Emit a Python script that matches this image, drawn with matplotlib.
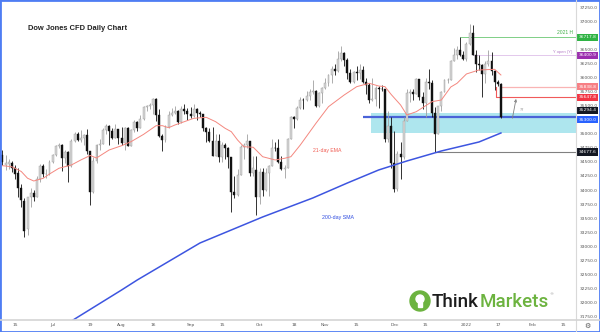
import numpy as np
import pandas as pd
import matplotlib
matplotlib.use('Agg')
import matplotlib.pyplot as plt
from matplotlib.patches import Rectangle, Ellipse

# daily candles, one per weekday from 2021-06-09 to 2022-01-18
first_day = '2021-06-09'
last_day = '2022-01-18'

opens = [34620, 34440, 34460,
         34480, 34390, 34300, 34030, 33800,
         33300, 33870, 33940, 33880, 34200,
         34430, 34280, 34290, 34500, 34630,
         34780, 34800, 34570, 34680, 34420,
         34870, 35000, 34890, 34930, 34980,
         34690, 33960, 34510, 34800, 34820,
         35060, 35140, 35050, 34930, 35080,
         34930, 34840, 35110, 34790, 35060,
         35210, 35100, 35260, 35480, 35500,
         35510, 35620, 35340, 34960, 34890,
         35120, 35330, 35370, 35400, 35210,
         35450, 35400, 35360, 35310, 35440,
         35370, 35350, 35100, 35030, 34880,
         34610, 34870, 34580, 34810, 34750,
         34580, 33970, 33920, 34260, 34760,
         34800, 34870, 34300, 34360, 33880,
         34320, 34000, 34310, 34420, 34750,
         34740, 34500, 34380, 34400, 34910,
         35300, 35260, 35460, 35610, 35600,
         35680, 35740, 35760, 35490, 35730,
         35820, 35910, 36050, 36160, 36120,
         36330, 36430, 36320, 36080, 35920,
         36100, 36090, 36140, 35930, 35870,
         35600, 35620, 35810, 35800, 35790,
         34900, 35140, 34480, 34020, 34640,
         34580, 35230, 35720, 35750, 35700,
         35970, 35650, 35540, 35930, 35900,
         35370, 35000, 35490, 35750, 35950,
         35960, 36300, 36400, 36490, 36400,
         36340, 36590, 36800, 36410, 36240,
         36230, 36070, 36250, 36290, 36110,
         35920, 35880]
highs = [34712, 34620, 34560,
         34520, 34450, 34400, 34100, 33850,
         33880, 34030, 34000, 34250, 34470,
         34460, 34380, 34530, 34650, 34800,
         34830, 34820, 34720, 34700, 34900,
         35040, 35030, 35060, 35000, 35090,
         34700, 34580, 34820, 34900, 35100,
         35170, 35150, 35100, 35170, 35090,
         35120, 35130, 35130, 35080, 35240,
         35230, 35340, 35500, 35520, 35540,
         35630, 35640, 35450, 35000, 35150,
         35400, 35460, 35500, 35420, 35500,
         35530, 35460, 35480, 35530, 35460,
         35400, 35360, 35130, 35100, 35130,
         35000, 35000, 34850, 34830, 34770,
         34590, 34250, 34370, 34800, 34830,
         35000, 34880, 34600, 34600, 34400,
         34400, 34400, 34450, 34900, 34860,
         34900, 34600, 34450, 34920, 35320,
         35320, 35500, 35650, 35640, 35770,
         35800, 35950, 35780, 35740, 35830,
         36000, 36070, 36200, 36250, 36470,
         36570, 36450, 36350, 36150, 36120,
         36200, 36240, 36200, 36000, 35900,
         36000, 35850, 35850, 35860, 35800,
         35400, 35300, 35050, 34700, 34850,
         35300, 35800, 35800, 35800, 36000,
         35980, 35750, 36000, 36150, 35950,
         35480, 35500, 35770, 35980, 36000,
         36320, 36530, 36570, 36718, 36480,
         36640, 36950, 36940, 36500, 36400,
         36250, 36300, 36500, 36450, 36130,
         35960, 35900]
lows = [34445, 34360, 34380,
        34320, 34200, 33880, 33700, 33170,
        33200, 33700, 33800, 33870, 34150,
        34230, 34210, 34270, 34480, 34600,
        34740, 34340, 34480, 34150, 34410,
        34860, 34880, 34850, 34800, 34650,
        33740, 33950, 34480, 34720, 34820,
        35000, 34800, 34900, 34920, 34820,
        34800, 34720, 34780, 34780, 35030,
        35050, 35100, 35250, 35400, 35450,
        35350, 35230, 34950, 34690, 34850,
        35100, 35310, 35350, 35180, 35200,
        35350, 35250, 35280, 35300, 35250,
        35300, 35050, 34850, 34850, 34600,
        34600, 34500, 34500, 34550, 34400,
        33610, 33850, 33900, 34260, 34550,
        34750, 34250, 34250, 33550, 33750,
        33900, 33980, 33900, 34420, 34700,
        34480, 34350, 34220, 34400, 34900,
        35100, 35240, 35440, 35450, 35580,
        35600, 35700, 35480, 35480, 35550,
        35800, 35850, 35900, 36050, 36100,
        36300, 36200, 35980, 35900, 35900,
        35960, 35980, 35900, 35700, 35550,
        35580, 35500, 35460, 35760, 34850,
        34850, 34400, 33960, 33980, 34200,
        34560, 35230, 35560, 35600, 35700,
        35600, 35450, 35300, 35800, 35300,
        34678, 34990, 35400, 35740, 35900,
        35950, 36300, 36330, 36380, 36320,
        36300, 36580, 36400, 36100, 36130,
        35650, 35900, 36200, 36050, 35780,
        35850, 35290]
closes = [34505, 34480, 34500,
          34390, 34290, 34030, 33820, 33280,
          33870, 33940, 33870, 34200, 34430,
          34280, 34290, 34500, 34630, 34780,
          34800, 34570, 34680, 34420, 34870,
          35000, 34890, 34930, 34980, 34690,
          33960, 34510, 34800, 34820, 35060,
          35140, 35050, 34930, 35080, 34930,
          34840, 35110, 34790, 35060, 35210,
          35100, 35260, 35480, 35500, 35510,
          35620, 35340, 34960, 34890, 35120,
          35330, 35370, 35400, 35210, 35450,
          35400, 35360, 35310, 35440, 35370,
          35350, 35100, 35030, 34880, 34610,
          34870, 34580, 34810, 34750, 34580,
          33970, 33920, 34260, 34760, 34800,
          34870, 34300, 34390, 33880, 34320,
          34000, 34310, 34420, 34750, 34740,
          34500, 34380, 34400, 34910, 35300,
          35260, 35460, 35610, 35600, 35680,
          35740, 35760, 35490, 35730, 35820,
          35910, 36050, 36160, 36120, 36330,
          36430, 36320, 36080, 35920, 36100,
          36090, 36140, 35930, 35870, 35600,
          35620, 35810, 35800, 35790, 34900,
          35140, 34480, 34020, 34640, 34580,
          35230, 35720, 35750, 35700, 35970,
          35650, 35540, 35930, 35900, 35370,
          35000, 35490, 35750, 35950, 35960,
          36300, 36400, 36490, 36400, 36340,
          36590, 36800, 36410, 36240, 36230,
          36070, 36250, 36290, 36110, 35920,
          35880, 35294.4]

# 21-day EMA
ema_dates = ['2021-06-09', '2021-06-14', '2021-06-17', '2021-06-21', '2021-06-23',
             '2021-06-28', '2021-06-30', '2021-07-05', '2021-07-09', '2021-07-14',
             '2021-07-19', '2021-07-21', '2021-07-27', '2021-08-02', '2021-08-05',
             '2021-08-11', '2021-08-17', '2021-08-19', '2021-08-23', '2021-08-25',
             '2021-08-30', '2021-09-02', '2021-09-08', '2021-09-13', '2021-09-16',
             '2021-09-20', '2021-09-22', '2021-09-24', '2021-09-29', '2021-10-04',
             '2021-10-08', '2021-10-13', '2021-10-15', '2021-10-20', '2021-10-27',
             '2021-11-02', '2021-11-09', '2021-11-15', '2021-11-19', '2021-11-24',
             '2021-11-26', '2021-11-30', '2021-12-03', '2021-12-07', '2021-12-10',
             '2021-12-17', '2021-12-22', '2021-12-27', '2021-12-29', '2022-01-03',
             '2022-01-07', '2022-01-14', '2022-01-18']
ema_values = [34433, 34415, 34330, 34210, 34161,
              34209, 34285, 34387, 34446, 34535,
              34615, 34570, 34712, 34789, 34860,
              34990, 35145, 35145, 35109, 35157,
              35216, 35276, 35294, 35216, 35099,
              35038, 34890, 34771, 34761, 34593,
              34535, 34565, 34593, 34801, 35188,
              35483, 35691, 35839, 35899, 35851,
              35840, 35700, 35513, 35335, 35394,
              35572, 35602, 35833, 35899, 36065,
              36136, 36148, 36047]

# 200-day SMA
sma_dates = ['2021-07-09', '2021-08-02', '2021-08-09', '2021-09-06', '2021-10-04',
             '2021-10-26', '2021-11-10', '2021-11-24', '2021-12-07', '2021-12-22',
             '2022-01-07', '2022-01-18']
sma_values = [31670, 32222, 32400, 33058, 33521,
              33859, 34125, 34357, 34517, 34695,
              34855, 35015]

tick_dates = ['2021-06-15', '2021-07-01', '2021-07-19', '2021-08-02', '2021-08-16',
              '2021-09-01', '2021-09-15', '2021-10-01', '2021-10-18', '2021-11-01',
              '2021-11-15', '2021-12-01', '2021-12-15', '2022-01-03', '2022-01-17',
              '2022-02-01', '2022-02-15']
tick_labels = ['15', 'Jul', '19', 'Aug', '16', 'Sep', '15', 'Oct', '18', 'Nov',
               '15', 'Dec', '15', '2022', '17', 'Feb', '15']
price_ticks = list(range(31750, 37251, 250))

# drawn levels
high_2021 = 36717.8
year_open = 36400.9
level_a = 35838.8
level_b = 35647.8
last_price = 35294.4
support = 35300.0
dec_low = 34677.6
zone_low, zone_high = 35020, 35370

assert len(opens) == len(highs) == len(lows) == len(closes)

days = pd.bdate_range(first_day, '2022-02-28')
pos = {d.strftime('%Y-%m-%d'): i for i, d in enumerate(days)}

fig = plt.figure(figsize=(6, 3.32), dpi=100)
ax = fig.add_axes([0, 12 / 332, 576 / 600, 320 / 332])
ax.set_xlim(-0.785, 182.95)
ax.set_ylim(31688, 37381)
xmax = ax.get_xlim()[1]

# zone + levels
ax.add_patch(Rectangle((pos['2021-11-22'] - 0.4, zone_low), xmax, zone_high - zone_low,
                       facecolor='#aee6ee', edgecolor='none', zorder=1))
ax.hlines(support, pos['2021-11-17'], xmax, color='#4a63d8', lw=1.6, zorder=2)
ax.hlines(high_2021, pos['2021-12-30'], xmax, color='#7fcf86', lw=0.7, zorder=2)
ax.hlines(year_open, pos['2022-01-05'], xmax, color='#e3c8ec', lw=0.7, zorder=2)
ax.hlines(level_a, pos['2022-01-18'], xmax, color='#f9b4b4', lw=0.9, zorder=2)
ax.plot([pos['2022-01-14'] + 0.5, pos['2022-01-14'] + 0.5, xmax],
        [level_a, level_b, level_b], color='#f05a5a', lw=0.8, zorder=2)
ax.hlines(dec_low, pos['2021-12-20'], xmax, color='#808080', lw=0.8, zorder=2)

# candles
o, h, l, c = map(np.array, (opens, highs, lows, closes))
x = np.arange(len(c))
up = c >= o
ax.vlines(x[up], l[up], h[up], color='#a0a0a0', lw=0.6, zorder=3)
ax.vlines(x[~up], l[~up], h[~up], color='#111111', lw=0.6, zorder=3)
body = np.maximum(np.abs(c - o), 10)
bottom = np.minimum(o, c)
ax.bar(x[up], body[up], bottom=bottom[up], width=0.62, color='#d6d6d6',
       edgecolor='#9a9a9a', lw=0.3, zorder=4)
ax.bar(x[~up], body[~up], bottom=bottom[~up], width=0.62, color='#111111',
       edgecolor='#111111', lw=0.3, zorder=4)

# moving averages
ax.plot([pos[d] for d in ema_dates], ema_values, color='#f4877f', lw=0.7, zorder=5)
ax.plot([pos[d] for d in sma_dates], sma_values, color='#3d55e0', lw=1.1, zorder=5)

# annotations
ax.text(pos['2021-11-01'] + 0.5, 34700, '21-day EMA', color='#f05a50', fontsize=3.7,
        family='Liberation Sans', ha='center', va='center')
ax.text(pos['2021-11-05'], 33520, '200-day SMA', color='#2f4ce0', fontsize=3.8,
        family='Liberation Sans', ha='center', va='center')
ytr = ax.get_yaxis_transform()
ax.text(0.995, high_2021 + 40, '2021 H', transform=ytr, color='#43b04a', fontsize=3.6,
        family='Liberation Sans', ha='right', va='bottom')
ax.text(0.993, year_open + 20, 'Y open (Y)', transform=ytr, color='#b47cc7', fontsize=3,
        family='Liberation Sans', ha='right', va='bottom')
ax.annotate('', xy=(pos['2022-01-25'], 35670), xytext=(pos['2022-01-21'] + 0.5, 35230),
            arrowprops=dict(arrowstyle='->', color='#808080', lw=0.6, mutation_scale=4))
ax.text(pos['2022-01-26'], 35430, '??', color='#909090', fontsize=3, ha='left', va='center')

# axes
ax.set_xticks([pos[d] for d in tick_dates])
ax.set_xticklabels(tick_labels)
ax.yaxis.tick_right()
ax.set_yticks(price_ticks)
ax.set_yticklabels(['%.1f' % p for p in price_ticks])
ax.tick_params(axis='both', length=0, labelsize=3.2, labelcolor='#555555')
ax.tick_params(axis='x', pad=2.5)
ax.tick_params(axis='y', pad=2.6)
for s in ax.spines.values():
    s.set_visible(False)

# price boxes; the two near 35300 are pushed apart like on the reference
boxes = [(high_2021, high_2021, '#2fb344'), (year_open, year_open, '#9b2fae'),
         (level_a, level_a, '#f77f84'), (level_b, level_b, '#f23645'),
         (last_price, last_price + 125, '#131722'), (support, support - 45, '#2962ff'),
         (dec_low, dec_low, '#131722')]
for value, ypos, col in boxes:
    ax.text(1.004, ypos, '%.1f' % value, transform=ytr, color='white', fontsize=3.2,
            ha='left', va='center', zorder=10, clip_on=False,
            bbox=dict(boxstyle='square,pad=0.35', fc=col, ec='none'))

# frame and separators
fig.add_artist(plt.Line2D([576 / 600, 576 / 600], [0, 1], color='#d9d9d9', lw=0.8))
fig.add_artist(plt.Line2D([0, 1], [12 / 332, 12 / 332], color='#d4d4d4', lw=1.2))
fig.add_artist(Rectangle((0, 0), 1, 1, transform=fig.transFigure, fill=False,
                         edgecolor='#4f7df3', lw=2))

fig.text(28 / 600, 1 - 29 / 332, 'Dow Jones CFD Daily Chart', fontsize=5.4,
         weight='bold', family='Liberation Sans', color='#222222', va='center')

# ThinkMarkets logo
fig.add_artist(Ellipse((420 / 600, 1 - 301 / 332), 20 / 600, 20 / 332,
                       transform=fig.transFigure, color='#6cb33f'))
fig.add_artist(Ellipse((420 / 600, 1 - 299 / 332), 8 / 600, 8 / 332,
                       transform=fig.transFigure, color='white'))
fig.add_artist(Rectangle((418.3 / 600, 1 - 307 / 332), 3.4 / 600, 5 / 332,
                         transform=fig.transFigure, color='white'))
fig.text(432 / 600, 1 - 302 / 332, 'Think', fontsize=13.5, family='Roboto',
         weight='medium', color='#1c1c1c', va='center', ha='left')
fig.text(480 / 600, 1 - 302 / 332, 'Markets', fontsize=13.5, family='Roboto',
         weight='medium', color='#6cb33f', va='center', ha='left')
fig.text(549 / 600, 1 - 294 / 332, '\u00ae', fontsize=3, color='#9a9a9a', va='center')
fig.text(587 / 600, 1 - 325.5 / 332, '\u2699', fontsize=5, color='#555555',
         ha='center', va='center')

fig.savefig('out.png', dpi=100, facecolor='white')
